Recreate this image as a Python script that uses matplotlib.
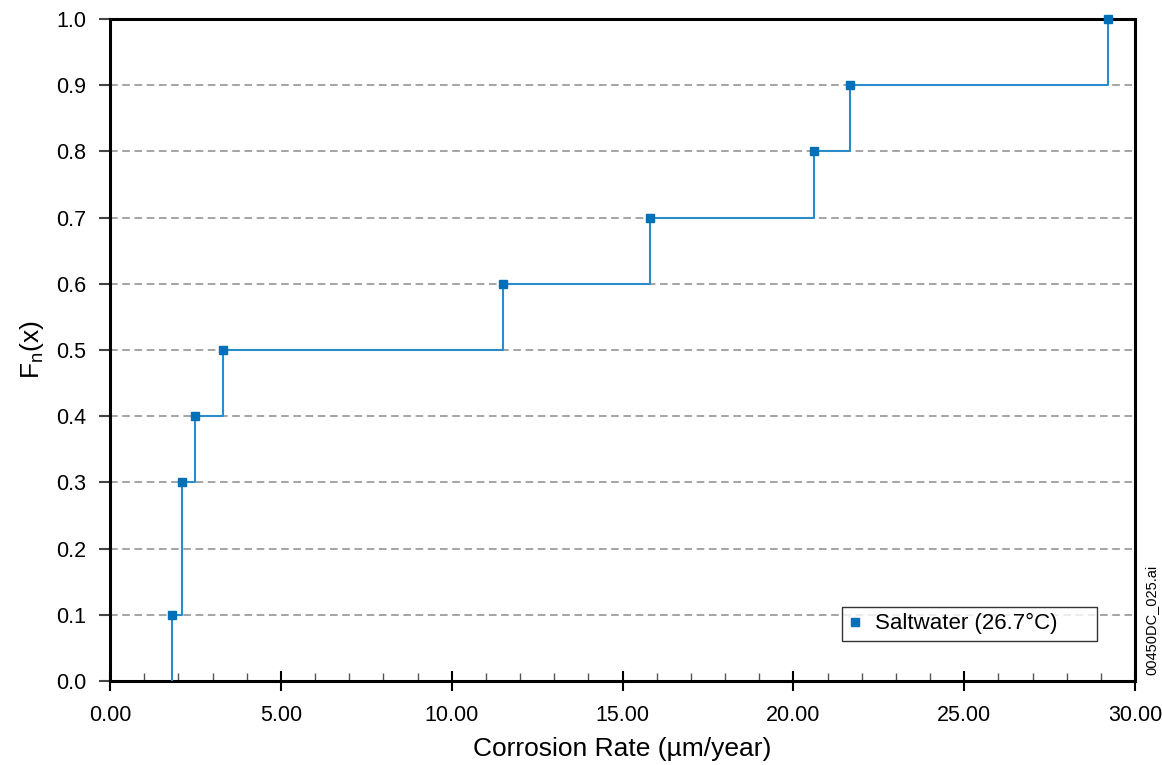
import numpy as np
import matplotlib
matplotlib.use('Agg')
import matplotlib.pyplot as plt
from matplotlib.ticker import MultipleLocator, FormatStrFormatter

plt.rcParams['font.family'] = ['Liberation Sans', 'DejaVu Sans']
plt.rcParams['mathtext.fontset'] = 'custom'
plt.rcParams['mathtext.rm'] = 'Liberation Sans'

# empirical distribution of saltwater corrosion rates
rate = [1.8, 2.1, 2.5, 3.3, 11.5, 15.8, 20.6, 21.65, 29.2]
fn = [0.1, 0.3, 0.4, 0.5, 0.6, 0.7, 0.8, 0.9, 1.0]
series_name = 'Saltwater (26.7°C)'

line_color = '#2a8ccc'
mark_color = '#0070b8'

fig = plt.figure(figsize=(11.62, 7.65), dpi=100)
ax = fig.add_axes([110 / 1162, 1 - 681 / 765, 1025 / 1162, 662 / 765])

xs = [rate[0]] + rate
ys = [0.0] + fn
ax.step(xs, ys, where='post', color=line_color, lw=1.5, zorder=3)
ax.plot(rate, fn, ls='none', marker='s', ms=6, color=mark_color,
        label=series_name, zorder=4, clip_on=False)

ax.set_xlim(0, 30)
ax.set_ylim(0, 1.0)
ax.xaxis.set_major_locator(MultipleLocator(5))
ax.xaxis.set_minor_locator(MultipleLocator(1))
ax.yaxis.set_major_locator(MultipleLocator(0.1))
ax.xaxis.set_major_formatter(FormatStrFormatter('%.2f'))
ax.yaxis.set_major_formatter(FormatStrFormatter('%.1f'))

for y in np.arange(0.1, 0.95, 0.1):
    ax.axhline(y, color='#8c8c8c', lw=1.1, ls=(0, (5, 3)), zorder=1)

for s in ax.spines.values():
    s.set_linewidth(2.2)
    s.set_color('black')

ax.tick_params(axis='x', which='major', direction='inout', length=14,
               width=1.5, labelsize=15.5, pad=10)
ax.tick_params(axis='x', which='minor', direction='in', length=6,
               width=1.0, color='#555555')
ax.tick_params(axis='y', which='major', direction='out', length=8,
               width=1.5, labelsize=15.5, color='#444444', pad=9)

ax.set_xlabel('Corrosion Rate (µm/year)', fontsize=19, labelpad=8)
ax.set_ylabel(r'F$_\mathregular{n}$(x)', fontsize=19, labelpad=7)

leg = ax.legend(loc='lower left',
                bbox_to_anchor=(842 / 1162, 1 - 641 / 765, 255 / 1162, 34 / 765),
                bbox_transform=fig.transFigure, mode='expand', fontsize=16,
                frameon=True, fancybox=False, handlelength=0.6,
                handletextpad=0.6, borderpad=0.3, borderaxespad=0,
                markerscale=0.85)
leg.get_frame().set_edgecolor('black')
leg.get_frame().set_linewidth(1.0)

fig.text(1151 / 1162, 1 - 620 / 765, '00450DC_025.ai', rotation=90,
         fontsize=10.5, ha='center', va='center')

fig.savefig('out.png', dpi=100)
